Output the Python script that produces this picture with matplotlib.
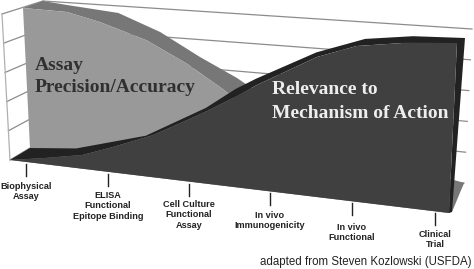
import numpy as np
import matplotlib.pyplot as plt

# assays along the axis, with their position on it (0 = left, 1 = right)
categories = ['Biophysical\nAssay', 'ELISA\nFunctional\nEpitope Binding', 'Cell Culture\nFunctional\nAssay',
              'In vivo\nImmunogenicity', 'In vivo\nFunctional', 'Clinical\nTrial']
category_pos = [0.036, 0.223, 0.408, 0.592, 0.779, 0.968]

# each curve has a front edge and a back edge (the fake 3D band)
relevance_front_pos = [0, 0.076, 0.167, 0.236, 0.328, 0.395, 0.45, 0.517, 0.561, 0.693, 0.78, 0.883, 1]
relevance_front = [0, 0.04, 0.093, 0.168, 0.275, 0.379, 0.465, 0.577, 0.657, 0.859, 0.943, 0.98, 1]
relevance_back_pos = [0, 0.11, 0.188, 0.275, 0.36, 0.415, 0.484, 0.53, 0.666, 0.775, 0.883, 1]
relevance_back = [0, 0.046, 0.12, 0.2, 0.342, 0.432, 0.576, 0.653, 0.85, 0.954, 0.99, 1]

assay_front_pos = [0, 0.099, 0.173, 0.279, 0.37, 0.453, 0.6, 0.8, 1]
assay_front = [1, 0.993, 0.94, 0.84, 0.71, 0.568, 0.3, 0.1, 0]
assay_back_pos = [0, 0.056, 0.175, 0.272, 0.365, 0.452, 0.6, 0.8, 1]
assay_back = [1, 0.982, 0.949, 0.833, 0.677, 0.552, 0.3, 0.1, 0]

grid_levels = [0, 0.2, 0.4, 0.6, 0.8, 1]

# corners of the three slanted planes: bottom left, bottom right, top left, top right
front_plane = [(10, 160), (449, 213), (2, 14), (457, 43)]
mid_plane = [(30, 148), (452, 212), (23, 8), (465, 38)]
wall_plane = [(50, 136), (464, 183), (43, 1), (472, 29)]


def project(plane, f, v):
    bl, br, tl, tr = [np.array(p, dtype=float) for p in plane]
    f = np.asarray(f, dtype=float)[..., None]
    v = np.asarray(v, dtype=float)[..., None]
    return (1 - v) * ((1 - f) * bl + f * br) + v * ((1 - f) * tl + f * tr)


fig = plt.figure(figsize=(4.74, 2.69), dpi=100)
ax = fig.add_axes([0, 0, 1, 1])
ax.set_xlim(0, 474)
ax.set_ylim(269, 0)
ax.axis('off')

# floor
floor = np.array([front_plane[0], front_plane[1], wall_plane[1], wall_plane[0]])
ax.fill(floor[:, 0], floor[:, 1], color='#777777', lw=0, zorder=1)

# grid lines on the back wall and the left side
for lev in grid_levels:
    a = project(wall_plane, [0, 1], [lev, lev])
    ax.plot(a[:, 0], a[:, 1], color='#8c8c8c', lw=0.9, zorder=2)
    left_a = project(front_plane, 0, lev)
    left_b = project(wall_plane, 0, lev)
    ax.plot([left_a[0], left_b[0]], [left_a[1], left_b[1]], color='#8c8c8c', lw=0.9, zorder=2)
left_edge = project(front_plane, [0, 0], [0, 1])
ax.plot(left_edge[:, 0], left_edge[:, 1], color='#b0b0b0', lw=0.9, zorder=2)

# assay precision band and body
a_front = project(mid_plane, assay_front_pos, assay_front)
a_back = project(wall_plane, assay_back_pos, assay_back)
band = np.vstack([a_front, a_back[::-1]])
ax.fill(band[:, 0], band[:, 1], color='#777777', lw=0, zorder=3)
a_base = project(mid_plane, [1, 0], [0, 0])
body = np.vstack([a_front, a_base])
ax.fill(body[:, 0], body[:, 1], color='#999999', lw=0, zorder=4)

# relevance band and body
r_front = project(front_plane, relevance_front_pos, relevance_front)
r_back = project(mid_plane, relevance_back_pos, relevance_back)
r_band = np.vstack([r_front, project(front_plane, 1, 0)[None, :],
                    project(mid_plane, 1, 0)[None, :], r_back[::-1]])
ax.fill(r_band[:, 0], r_band[:, 1], color='#222222', lw=0, zorder=5)
r_base = project(front_plane, [1, 0], [0, 0])
r_body = np.vstack([r_front, r_base])
ax.fill(r_body[:, 0], r_body[:, 1], color='#404040', lw=0, zorder=6)

# ticks and category labels
label_tops = [182, 191, 200, 211, 223, 230]
for pos, name, top in zip(category_pos, categories, label_tops):
    x, y = project(front_plane, pos, 0)
    ax.plot([x, x], [y + 2, y + 14], color='#222222', lw=1.0, zorder=7)
    ax.text(x, top, name, ha='center', va='top', fontsize=6.6, fontweight='bold',
            family='Liberation Sans', color='#222222', linespacing=1.2, zorder=8)

serif = dict(family='Liberation Serif', fontweight='bold', fontsize=14, va='center', zorder=8)
ax.text(35, 65, 'Assay', color='#303030', **serif)
ax.text(35, 88, 'Precision/Accuracy', color='#303030', **serif)
ax.text(272, 90, 'Relevance to', color='#eeeeee', **serif)
ax.text(272, 113, 'Mechanism of Action', color='#eeeeee', **serif)

ax.text(260, 262, 'adapted from Steven Kozlowski (USFDA)', ha='left', va='center', fontsize=8.3,
        family='Liberation Sans', color='#222222')

fig.savefig('out.png', dpi=100)
